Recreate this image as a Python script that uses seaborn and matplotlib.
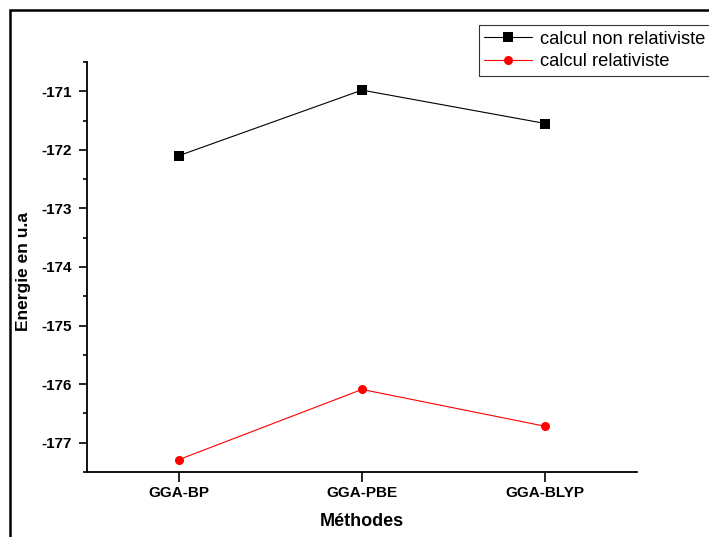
import matplotlib
matplotlib.use("Agg")
import matplotlib.pyplot as plt
import seaborn as sns
import pandas as pd
from matplotlib.patches import Rectangle
from matplotlib.ticker import MultipleLocator

methods = ["GGA-BP", "GGA-PBE", "GGA-BLYP"]
non_rel = [-172.10, -170.98, -171.55]
rel = [-177.29, -176.09, -176.72]
series_names = ["calcul non relativiste", "calcul relativiste"]

sns.set_style("ticks", {"text.color": "black", "axes.labelcolor": "black",
                        "xtick.color": "black", "ytick.color": "black",
                        "axes.edgecolor": "black"})
plt.rcParams['font.family'] = ['Liberation Sans', 'DejaVu Sans']
plt.rcParams['axes.unicode_minus'] = False

df = pd.DataFrame({
    "x": list(range(len(methods))) * 2,
    "y": non_rel + rel,
    "serie": [series_names[0]] * 3 + [series_names[1]] * 3,
})

fig = plt.figure(figsize=(7.09, 5.37), dpi=100)
W, H = 709, 537
ax = fig.add_axes([87 / W, 1 - 472 / H, (637 - 87) / W, (472 - 62) / H])

sns.lineplot(data=df, x="x", y="y", hue="serie", style="serie",
             palette={series_names[0]: "black", series_names[1]: "red"},
             markers={series_names[0]: "s", series_names[1]: "o"},
             dashes=False, linewidth=0.8, markersize=6.5, markeredgewidth=0,
             ax=ax, legend=True)

ax.set_xlim(-0.5, 2.5)
ax.set_ylim(-177.5, -170.5)
ax.set_xticks(range(len(methods)))
ax.set_xticklabels(methods, fontweight="bold", fontsize=11)
ax.yaxis.set_major_locator(MultipleLocator(1))
ax.yaxis.set_minor_locator(MultipleLocator(0.5))
for lab in ax.get_yticklabels():
    lab.set_fontweight("bold")
    lab.set_fontsize(11)
ax.tick_params(axis="y", which="major", length=6, width=1.2, direction="out", pad=5)
ax.tick_params(axis="y", which="minor", length=3, width=1.2, direction="out")
ax.tick_params(axis="x", which="major", length=7, width=1.2, direction="out", pad=3)
sns.despine(ax=ax)
for s in ["left", "bottom"]:
    ax.spines[s].set_linewidth(1.3)
ax.set_xlabel("Méthodes", fontweight="bold", fontsize=13)
ax.set_ylabel("Energie en u.a", fontweight="bold", fontsize=12.5)
ax.yaxis.set_label_coords((31 - 87) / 550, 0.49)
ax.xaxis.set_label_coords(0.5, -(513 - 472) / 410)

leg = ax.get_legend()
handles = leg.legend_handles
leg.remove()
fig.legend(handles, series_names, loc="upper left",
           bbox_to_anchor=(479 / W, 1 - 25 / H), frameon=True, fancybox=False,
           edgecolor="black", fontsize=13.2, borderpad=0.3, labelspacing=0.3,
           handlelength=2.6, handletextpad=0.4, borderaxespad=0)
fig.legends[0].get_frame().set_linewidth(0.8)

fig.patches.append(Rectangle((10 / W, -0.1), 1.2, 1 - 10 / H + 0.1,
                             transform=fig.transFigure, fill=False,
                             edgecolor="black", linewidth=1.8))

fig.savefig("out.png", dpi=100)
